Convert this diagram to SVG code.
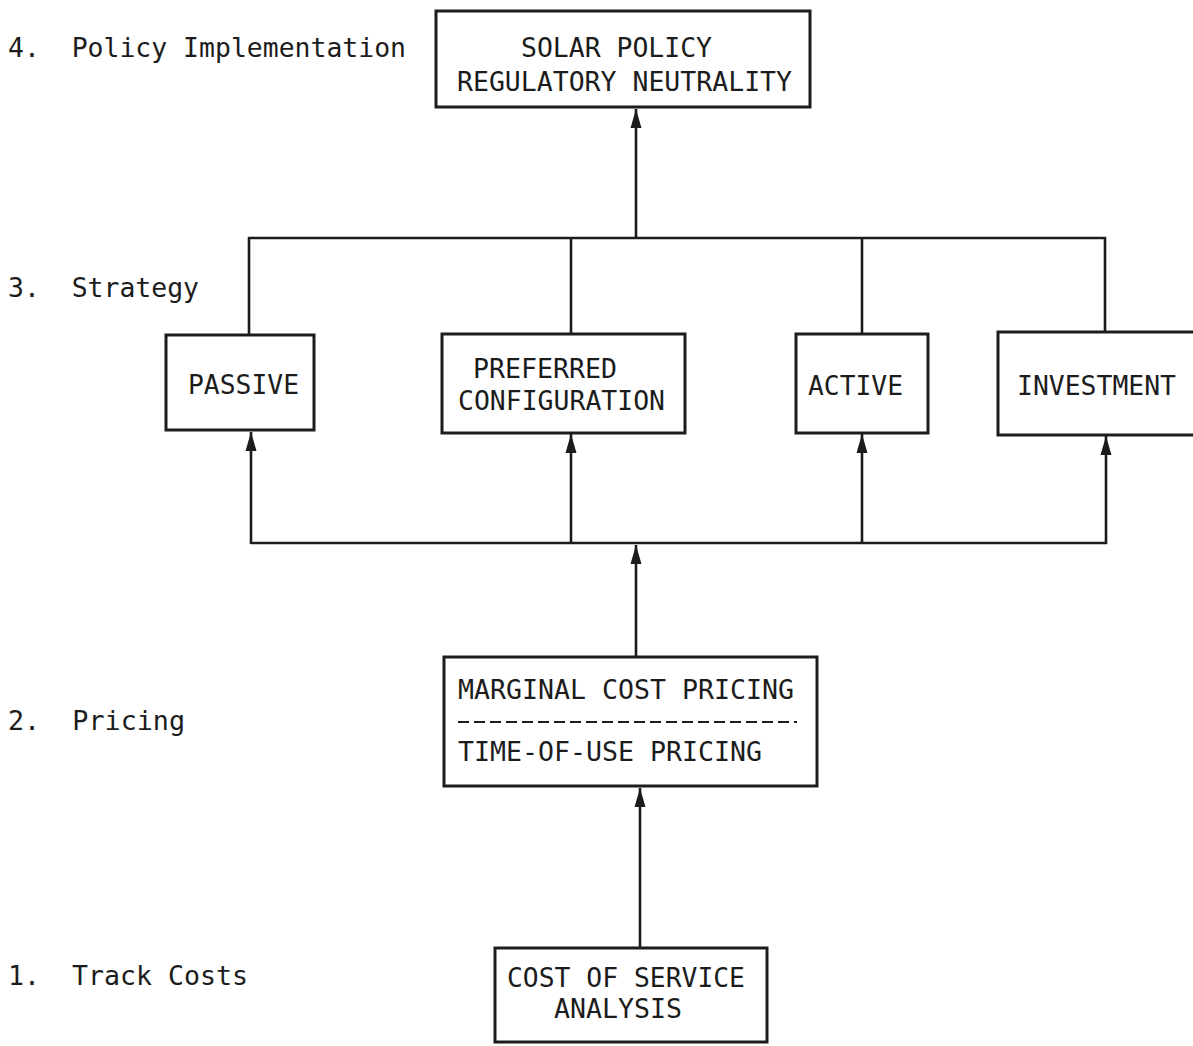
<svg xmlns="http://www.w3.org/2000/svg" width="1193" height="1046" viewBox="0 0 1193 1046">
<defs>
<marker id="ah" markerUnits="userSpaceOnUse" markerWidth="22" markerHeight="14" viewBox="-20 -7 22 14" refX="0" refY="0" orient="auto">
<path d="M0,0 L-19,-5.5 L-19,5.5 Z" fill="#1c1c1c"/>
</marker>
<style>
.box{fill:#fff;stroke:#1c1c1c;stroke-width:3}
.ln{fill:none;stroke:#1c1c1c;stroke-width:2.6;stroke-linejoin:miter}
.t{font-family:"DejaVu Sans Mono","Liberation Mono",monospace;font-size:27px;fill:#1c1c1c;white-space:pre}
</style>
</defs>
<rect width="1193" height="1046" fill="#fff"/>
<g id="levels">
<text class="t" x="8" y="57" textLength="398" lengthAdjust="spacingAndGlyphs" xml:space="preserve">4.  Policy Implementation</text>
<text class="t" x="8" y="297" textLength="191" lengthAdjust="spacingAndGlyphs" xml:space="preserve">3.  Strategy</text>
<text class="t" x="8" y="730" textLength="177" lengthAdjust="spacingAndGlyphs" xml:space="preserve">2.  Pricing</text>
<text class="t" x="8" y="985" textLength="240" lengthAdjust="spacingAndGlyphs" xml:space="preserve">1.  Track Costs</text>
</g>
<g id="connectors">
<path class="ln" d="M636,238 V109" marker-end="url(#ah)"/>
<path class="ln" d="M249,335 V238 H1105 V332"/>
<path class="ln" d="M571,238 V334"/>
<path class="ln" d="M862,238 V334"/>
<path class="ln" d="M251,543 H1107"/>
<path class="ln" d="M251,544 V432" marker-end="url(#ah)"/>
<path class="ln" d="M571,543 V434" marker-end="url(#ah)"/>
<path class="ln" d="M862,543 V434" marker-end="url(#ah)"/>
<path class="ln" d="M1106,544 V436" marker-end="url(#ah)"/>
<path class="ln" d="M636,656 V545" marker-end="url(#ah)"/>
<path class="ln" d="M640,948 V788" marker-end="url(#ah)"/>
</g>
<g id="policy">
<rect class="box" x="436" y="11" width="374" height="96"/>
<text class="t" x="521" y="57" textLength="191" lengthAdjust="spacingAndGlyphs">SOLAR POLICY</text>
<text class="t" x="457" y="91" textLength="335" lengthAdjust="spacingAndGlyphs">REGULATORY NEUTRALITY</text>
</g>
<g id="passive">
<rect class="box" x="166" y="335" width="148" height="95"/>
<text class="t" x="188" y="394" textLength="111" lengthAdjust="spacingAndGlyphs">PASSIVE</text>
</g>
<g id="preferred">
<rect class="box" x="442" y="334" width="243" height="99"/>
<text class="t" x="473" y="378" textLength="144" lengthAdjust="spacingAndGlyphs">PREFERRED</text>
<text class="t" x="458" y="410" textLength="207" lengthAdjust="spacingAndGlyphs">CONFIGURATION</text>
</g>
<g id="active">
<rect class="box" x="796" y="334" width="132" height="99"/>
<text class="t" x="808" y="395" textLength="95" lengthAdjust="spacingAndGlyphs">ACTIVE</text>
</g>
<g id="investment">
<rect class="box" x="998" y="332" width="198" height="103"/>
<text class="t" x="1017" y="395" textLength="159" lengthAdjust="spacingAndGlyphs">INVESTMENT</text>
</g>
<g id="pricing">
<rect class="box" x="444" y="657" width="373" height="129"/>
<text class="t" x="458" y="699" textLength="336" lengthAdjust="spacingAndGlyphs">MARGINAL COST PRICING</text>
<line x1="458" y1="722" x2="797" y2="722" stroke="#1c1c1c" stroke-width="2" stroke-dasharray="11,5"/>
<text class="t" x="458" y="761" textLength="304" lengthAdjust="spacingAndGlyphs">TIME-OF-USE PRICING</text>
</g>
<g id="cost">
<rect class="box" x="495" y="948" width="272" height="94"/>
<text class="t" x="507" y="987" textLength="238" lengthAdjust="spacingAndGlyphs">COST OF SERVICE</text>
<text class="t" x="554" y="1018" textLength="128" lengthAdjust="spacingAndGlyphs">ANALYSIS</text>
</g>
</svg>
